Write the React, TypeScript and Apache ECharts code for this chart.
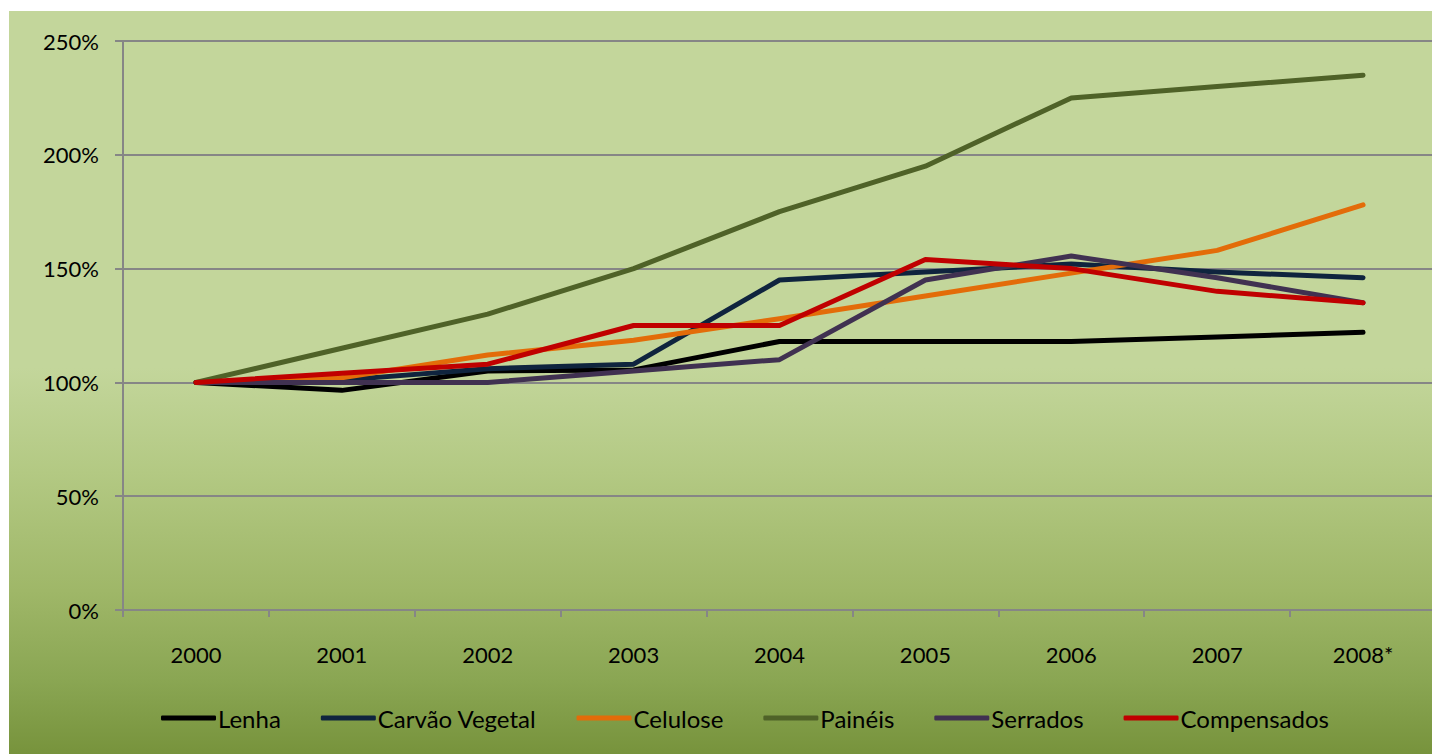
import React, { useEffect, useRef } from "react";
import * as echarts from "echarts";

const categories = ["2000", "2001", "2002", "2003", "2004", "2005", "2006", "2007", "2008*"];
const yTicks = [0, 50, 100, 150, 200, 250];

const lenha = [100, 96.5, 105, 105.5, 118, 118, 118, 120, 122];
const carvaoVegetal = [100, 101, 106, 108, 145, 148.5, 152, 148.5, 146];
const celulose = [100, 102, 112, 118.5, 128, 138, 148, 158, 178];
const paineis = [100, 115, 130, 150, 175, 195, 225, 230, 235];
const serrados = [100, 100, 100, 105, 110, 145, 155.5, 146, 135];
const compensados = [100, 104, 108, 125, 125, 154, 150, 140, 135];

const seriesNames = ["Lenha", "Carvão Vegetal", "Celulose", "Painéis", "Serrados", "Compensados"];
const seriesColors = ["#000000", "#0f243e", "#e36c09", "#4f6228", "#403151", "#c00000"];
const seriesData = [lenha, carvaoVegetal, celulose, paineis, serrados, compensados];

const FONT = "Lato, 'Open Sans', sans-serif";

export default function App() {
  const ref = useRef<HTMLDivElement>(null);
  useEffect(() => {
    if (!ref.current) return;
    const chart = echarts.init(ref.current, null, { renderer: "svg" });
    chart.setOption({
      animation: false,
      textStyle: { fontFamily: FONT },
      grid: { left: 114, right: 4, top: 30, bottom: 144, containLabel: false },
      legend: {
        bottom: 19,
        left: 147,
        itemWidth: 55,
        itemHeight: 5,
        itemGap: 40,
        textStyle: { fontSize: 24, color: "#000", fontFamily: FONT, padding: [0, 0, 0, -3] },
        data: seriesNames.map((n, i) => ({
          name: n,
          icon: "roundRect",
          itemStyle: { color: seriesColors[i] },
        })),
      },
      xAxis: {
        type: "category",
        data: categories,
        boundaryGap: true,
        axisLine: { lineStyle: { color: "#868686", width: 2 } },
        axisTick: { show: true, length: 7, lineStyle: { color: "#868686", width: 2 }, alignWithLabel: false },
        axisLabel: { fontSize: 22, color: "#000", margin: 33, fontFamily: FONT },
      },
      yAxis: {
        type: "value",
        min: 0,
        max: 250,
        interval: 50,
        axisLine: { show: true, lineStyle: { color: "#868686", width: 2 } },
        axisTick: { show: true, length: 8, lineStyle: { color: "#868686", width: 2 } },
        splitLine: { show: true, lineStyle: { color: "#868686", width: 2 } },
        axisLabel: {
          fontSize: 22,
          color: "#000",
          margin: 24,
          fontFamily: FONT,
          formatter: (v: number) => (yTicks.includes(v) ? v + "%" : ""),
        },
      },
      series: seriesData.map((d, i) => ({
        name: seriesNames[i],
        type: "line",
        data: d,
        showSymbol: false,
        symbol: "none",
        color: seriesColors[i],
        lineStyle: { color: seriesColors[i], width: 5, cap: "round", join: "round" },
        itemStyle: { color: seriesColors[i] },
      })),
    });
    return () => chart.dispose();
  }, []);
  return (
    <div
      ref={ref}
      style={{
        width: 1431,
        height: 743,
        marginLeft: 1,
        marginTop: 3,
        background:
          "linear-gradient(to bottom, #c3d69b 0%, #c3d69b 48%, #b3c983 62%, #9fb768 78%, #8aa653 90%, #77933c 100%)",
      }}
    />
  );
}
